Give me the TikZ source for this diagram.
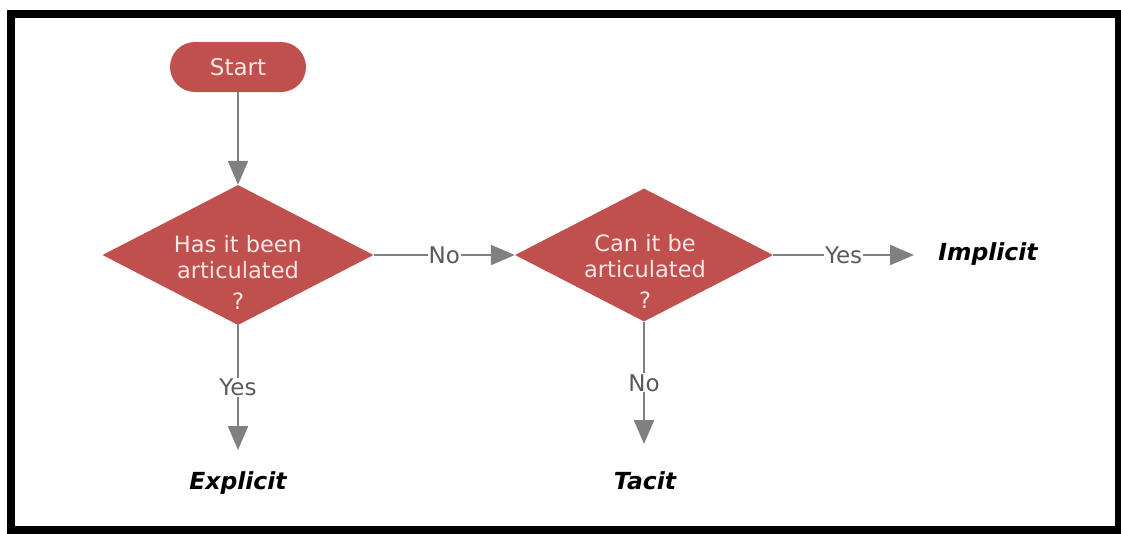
\documentclass[tikz,border=0pt]{standalone}
\usepackage{fontspec}
\setmainfont{DejaVu Sans}
\usetikzlibrary{shapes.geometric,arrows.meta}
\definecolor{boxred}{HTML}{C0504D}
\definecolor{linegray}{HTML}{808080}
\definecolor{txtpink}{HTML}{FBE6E6}
\definecolor{lblgray}{HTML}{5A5A5A}
\tikzset{startb/.style={rectangle, rounded corners=25pt, fill=boxred, minimum width=136pt, minimum height=50pt, text=txtpink, font=\fontsize{23}{26}\selectfont}}
\tikzset{decide/.style={diamond, fill=boxred, inner sep=0pt, minimum width=271pt, minimum height=140pt}}
\tikzset{decidetxt/.style={text=txtpink, align=center, inner sep=0pt, font=\fontsize{22.5}{26}\selectfont}}
\tikzset{result/.style={font=\fontsize{23.5}{26}\selectfont\bfseries\itshape, inner sep=0pt}}
\tikzset{lbl/.style={fill=white, text=lblgray, inner sep=1pt, font=\fontsize{23}{26}\selectfont}}
\tikzset{arr/.style={draw=linegray, line width=2.2pt, -{Triangle[length=24pt,width=20pt]}}}

\begin{document}
\begin{tikzpicture}[x=1pt, y=-1pt]
        \useasboundingbox (0,0) rectangle (1121,533);
        \draw[line width=8pt] (11,14) rectangle (1119,530);

        \node[startb] (start) at (238,67) {Start};
        \node[decide] (d1) at (238,255) {};
        \node[decidetxt] (d1t) at (238,272) {Has it been\\articulated\\[5pt]?};
        \node[decide, minimum width=258pt, minimum height=133pt] (d2) at (644,255) {};
        \node[decidetxt] (d2t) at (645,271) {Can it be\\articulated\\[5pt]?};

        \node[result] (explicit) at (238,483) {Explicit};
        \node[result] (tacit) at (645,481) {Tacit};
        \node[result] (implicit) at (988,254) {Implicit};
        \coordinate (explicittip) at (238,450);
        \coordinate (tacittip) at (644,444);
        \coordinate (implicittip) at (914,255);

        \draw[arr] (start) -- (d1.north);
        \draw[arr] (d1.east) -- node[lbl, pos=0.5]{No} (d2.west);
        \draw[arr] (d2.east) -- node[lbl, pos=0.5]{Yes} (implicittip);
        \draw[arr] (d1.south) -- node[lbl, pos=0.5]{Yes} (explicittip);
        \draw[arr] (d2.south) -- node[lbl, pos=0.5]{No} (tacittip);

\end{tikzpicture}
\end{document}
